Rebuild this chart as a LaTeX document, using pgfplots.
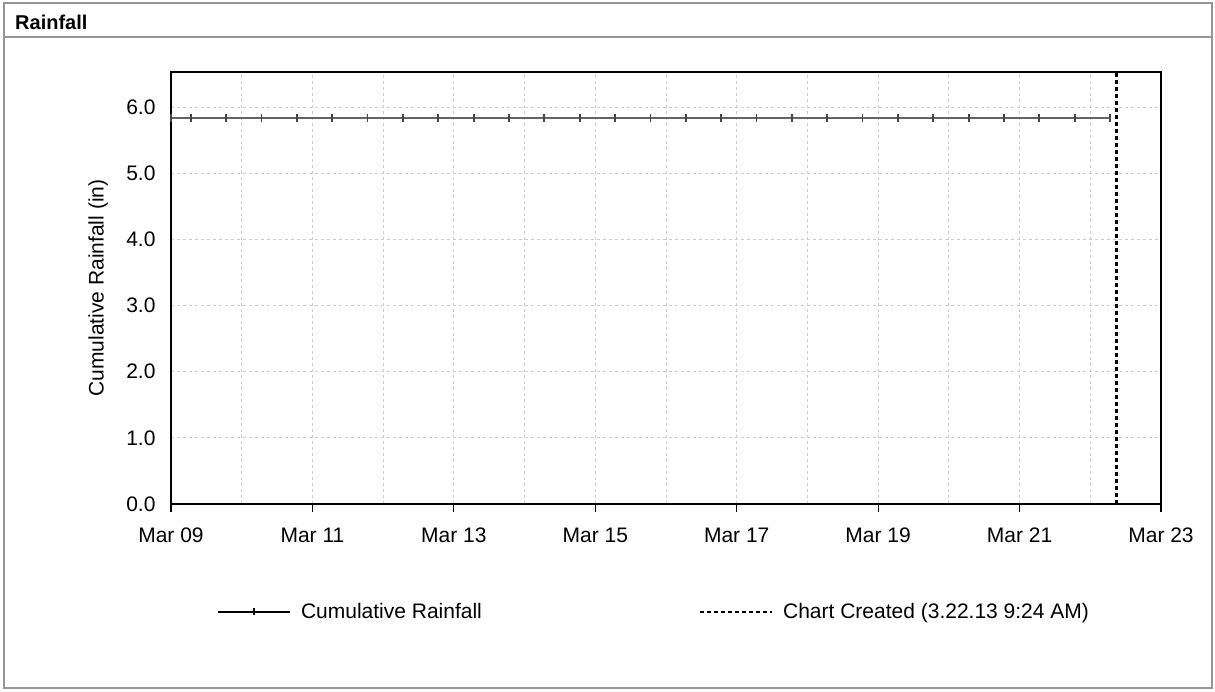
\documentclass[border=0pt]{standalone}
\usepackage{fontspec}
\setmainfont{Liberation Sans}
\usepackage{pgfplots}
\pgfplotsset{compat=1.18}

\definecolor{linegray}{RGB}{100,100,100}
\definecolor{markgray}{RGB}{70,70,70}
\definecolor{gridgray}{RGB}{205,205,205}
\definecolor{framegray}{RGB}{150,150,150}

\begin{document}
\begin{tikzpicture}
\path[use as bounding box] (0pt,0pt) rectangle (1215pt,692pt);
% panel frame and title bar
\draw[framegray, line width=1.2pt] (4pt,4pt) rectangle (1212pt,689pt);
\draw[framegray, line width=1.2pt] (4pt,655pt) -- (1212pt,655pt);
\node[anchor=west, inner sep=0pt, font=\fontsize{20}{24}\selectfont\bfseries] at (15pt,670pt) {Rainfall};

\begin{axis}[
    scale only axis,
    width=990pt, height=432pt,
    at={(171pt,188pt)}, anchor=south west,
    xmin=0, xmax=14,
    ymin=0, ymax=6.53,
    xtick={0,2,...,14},
    xticklabels={Mar 09,Mar 11,Mar 13,Mar 15,Mar 17,Mar 19,Mar 21,Mar 23},
    minor x tick num=1,
    ytick={0,1,...,6},
    yticklabel={\pgfmathprintnumber[fixed,fixed zerofill,precision=1]{\tick}},
    /pgf/number format/assume math mode=true,
    tick label style={font=\fontsize{21}{25}\selectfont},
    xticklabel style={text height=15pt, text depth=0pt, yshift=-12pt},
    yticklabel style={xshift=-12pt},
    xtick pos=bottom, ytick pos=left,
    xtick align=outside,
    major x tick style={black, line width=1.2pt},
    major tick length=8pt,
    minor tick length=0pt,
    major y tick style={draw=none},
    grid=both,
    major grid style={gridgray, dashed, line width=1pt},
    minor grid style={gridgray, dashed, line width=1pt},
    axis line style={black, line width=1.6pt},
    ylabel={Cumulative Rainfall (in)},
    ylabel style={font=\fontsize{21}{25}\selectfont, at={(axis description cs:-0.0735,0.5)}, anchor=center},
    legend columns=2,
    legend style={
        draw=none, fill=none, inner sep=0pt,
        at={(axis description cs:0.0465,-0.25)}, anchor=west,
        font=\fontsize{21}{25}\selectfont,
        /tikz/every odd column/.append style={column sep=8pt},
        /tikz/every even column/.append style={column sep=215pt},
    },
    legend image code/.code={\draw[mark repeat=2,mark phase=2,#1] plot coordinates {(0pt,0pt) (36pt,0pt) (72pt,0pt)};},
]
% cumulative rainfall, every 12 h
\addplot[linegray, line width=1.8pt, mark=|, mark size=4pt, mark options={markgray, line width=1.8pt}, forget plot]
coordinates {
    (0,5.83) (0.28,5.83) (0.78,5.83) (1.28,5.83) (1.78,5.83) (2.28,5.83) (2.78,5.83)
    (3.28,5.83) (3.78,5.83) (4.28,5.83) (4.78,5.83) (5.28,5.83) (5.78,5.83)
    (6.28,5.83) (6.78,5.83) (7.28,5.83) (7.78,5.83) (8.28,5.83) (8.78,5.83)
    (9.28,5.83) (9.78,5.83) (10.28,5.83) (10.78,5.83) (11.28,5.83) (11.78,5.83)
    (12.28,5.83) (12.78,5.83) (13.28,5.83)
};
\addlegendimage{black, line width=1.8pt, mark=|, mark size=3.5pt, mark options={line width=1.8pt}}
\addlegendentry{Cumulative Rainfall}
% chart created: 3.22.13 9:24 AM
\addplot[black, line width=2.2pt, dash pattern=on 4pt off 3pt]
coordinates {(13.37,0) (13.37,6.53)};
\addlegendentry{Chart Created (3.22.13 9:24 AM)}
\end{axis}
\end{tikzpicture}
\end{document}
